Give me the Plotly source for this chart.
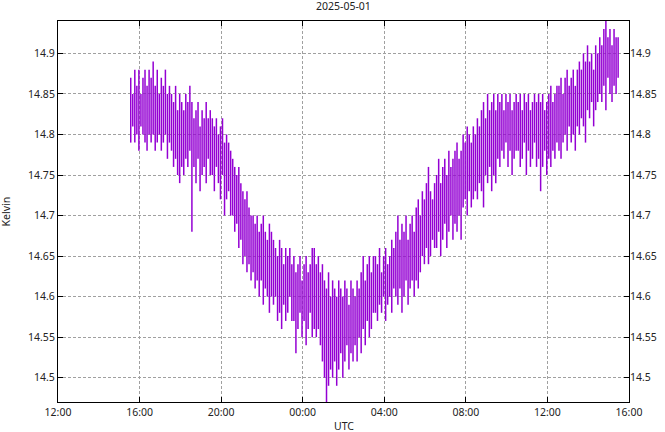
import pandas as pd
import plotly.graph_objects as go

# ---- data ----
title_text = "2025-05-01"
x_label = "UTC"
y_label = "Kelvin"
start_time = "2025-04-30 15:34"
sample_minutes = 6

# per-interval maximum (K)
kmax = [
    14.87, 14.85, 14.88, 14.86, 14.88, 14.85, 14.87, 14.88, 14.86, 14.88,
    14.87, 14.89, 14.86, 14.88, 14.85, 14.87, 14.86, 14.88, 14.85, 14.86,
    14.85, 14.84, 14.86, 14.83, 14.85, 14.84, 14.83, 14.85, 14.84, 14.86,
    14.84, 14.82, 14.83, 14.84, 14.81, 14.83, 14.82, 14.84, 14.82, 14.83,
    14.82, 14.81, 14.82, 14.80, 14.81, 14.82, 14.79, 14.80, 14.79, 14.78,
    14.77, 14.76, 14.75, 14.76, 14.74, 14.73, 14.72, 14.73, 14.71, 14.70,
    14.70, 14.69, 14.70, 14.68, 14.69, 14.70, 14.68, 14.67, 14.69, 14.68,
    14.67, 14.66, 14.65, 14.67, 14.66, 14.64, 14.66, 14.65, 14.66, 14.64,
    14.65, 14.63, 14.64, 14.65, 14.62, 14.64, 14.65, 14.63, 14.64, 14.66,
    14.66, 14.64, 14.65, 14.63, 14.64, 14.62, 14.61, 14.63, 14.60, 14.62,
    14.61, 14.60, 14.62, 14.61, 14.60, 14.62, 14.61, 14.59, 14.62, 14.61,
    14.60, 14.62, 14.61, 14.63, 14.65, 14.62, 14.64, 14.65, 14.63, 14.65,
    14.65, 14.64, 14.66, 14.63, 14.65, 14.66, 14.64, 14.65, 14.67, 14.66,
    14.68, 14.70, 14.67, 14.69, 14.68, 14.70, 14.67, 14.69, 14.70, 14.68,
    14.71, 14.72, 14.70, 14.73, 14.72, 14.74, 14.76, 14.73, 14.72, 14.74,
    14.75, 14.77, 14.74, 14.76, 14.77, 14.75, 14.78, 14.76, 14.77, 14.78,
    14.79, 14.77, 14.78, 14.80, 14.79, 14.81, 14.80, 14.79, 14.81, 14.80,
    14.82, 14.81, 14.83, 14.84, 14.82, 14.85, 14.83, 14.84, 14.85, 14.83,
    14.85, 14.84, 14.85, 14.83, 14.85, 14.84, 14.85, 14.83, 14.84, 14.85,
    14.84, 14.85, 14.83, 14.85, 14.84, 14.85, 14.83, 14.84, 14.85, 14.84,
    14.85, 14.84, 14.85, 14.83, 14.84, 14.85, 14.86, 14.84, 14.85, 14.86,
    14.86, 14.87, 14.85, 14.87, 14.88, 14.86, 14.87, 14.88, 14.86, 14.88,
    14.89, 14.88, 14.90, 14.89, 14.91, 14.89, 14.90, 14.88, 14.91, 14.90,
    14.92, 14.91, 14.93, 14.94, 14.92, 14.93, 14.91, 14.93, 14.92, 14.92,
]

# per-interval minimum (K)
kmin = [
    14.79, 14.81, 14.79, 14.80, 14.78, 14.81, 14.80, 14.79, 14.78, 14.80,
    14.79, 14.80, 14.78, 14.79, 14.80, 14.78, 14.79, 14.80, 14.77, 14.79,
    14.78, 14.76, 14.77, 14.75, 14.74, 14.76, 14.75, 14.77, 14.76, 14.78,
    14.68, 14.76, 14.74, 14.77, 14.73, 14.75, 14.76, 14.74, 14.77, 14.75,
    14.75, 14.73, 14.76, 14.74, 14.72, 14.75, 14.70, 14.72, 14.73, 14.70,
    14.70, 14.68, 14.69, 14.66, 14.67, 14.64, 14.65, 14.63, 14.64, 14.62,
    14.63, 14.61, 14.62, 14.60, 14.62, 14.59, 14.61, 14.60, 14.58, 14.60,
    14.59, 14.60, 14.57, 14.58, 14.56, 14.59, 14.57, 14.58, 14.60, 14.57,
    14.57, 14.53, 14.56, 14.58, 14.55, 14.57, 14.54, 14.56, 14.58, 14.55,
    14.56, 14.55, 14.56, 14.54, 14.52, 14.50, 14.47, 14.49, 14.51, 14.50,
    14.52, 14.49, 14.51, 14.53, 14.50, 14.52, 14.54, 14.51, 14.53, 14.52,
    14.54, 14.52, 14.55, 14.53, 14.56, 14.54, 14.57, 14.55, 14.56, 14.58,
    14.58, 14.57, 14.59, 14.58, 14.60, 14.57, 14.59, 14.60, 14.58, 14.61,
    14.60, 14.59, 14.61, 14.58, 14.60, 14.62, 14.59, 14.61, 14.62, 14.60,
    14.62, 14.61, 14.63, 14.65, 14.64, 14.66, 14.64, 14.65, 14.67, 14.66,
    14.66, 14.68, 14.65, 14.67, 14.69, 14.66, 14.68, 14.70, 14.67, 14.69,
    14.68, 14.70, 14.67, 14.71, 14.72, 14.70, 14.73, 14.71, 14.72, 14.73,
    14.72, 14.74, 14.73, 14.71, 14.75, 14.74, 14.76, 14.73, 14.75, 14.74,
    14.77, 14.76, 14.78, 14.77, 14.79, 14.76, 14.78, 14.75, 14.77, 14.78,
    14.78, 14.76, 14.77, 14.79, 14.75, 14.78, 14.76, 14.77, 14.79, 14.76,
    14.77, 14.73, 14.76, 14.78, 14.75, 14.77, 14.76, 14.78, 14.77, 14.79,
    14.78, 14.77, 14.79, 14.80, 14.78, 14.81, 14.79, 14.80, 14.78, 14.81,
    14.80, 14.82, 14.81, 14.79, 14.83, 14.82, 14.84, 14.81, 14.83, 14.84,
    14.85, 14.84, 14.86, 14.83, 14.87, 14.85, 14.84, 14.86, 14.85, 14.87,
]

x_range = ["2025-04-30 12:00", "2025-05-01 16:00"]
y_range = [14.47, 14.94]
y_ticks = [14.5, 14.55, 14.6, 14.65, 14.7, 14.75, 14.8, 14.85, 14.9]
y_ticktext = ["14.5", "14.55", "14.6", "14.65", "14.7", "14.75", "14.8", "14.85", "14.9"]

times = pd.date_range(start_time, periods=len(kmax), freq=f"{sample_minutes}min")

# vertical min-max segments, separated by gaps
seg_x, seg_y = [], []
for t, lo, hi in zip(times, kmin, kmax):
    seg_x += [t, t, None]
    seg_y += [lo, hi, None]

FONT = "Noto Sans"
FS = 10.5
GRID = "#a0a0a0"
TXT = "#222222"
PURPLE = "#9400d3"

fig = go.Figure()
fig.add_trace(go.Scatter(
    x=seg_x, y=seg_y, mode="lines", connectgaps=False,
    line=dict(color=PURPLE, width=1.5),
    showlegend=False, hoverinfo="skip",
))

axis_common = dict(
    showline=True, linecolor="black", linewidth=1,
    ticks="inside", ticklen=5, tickcolor="black", tickwidth=1,
    showgrid=True, gridcolor=GRID, gridwidth=1, griddash="3px,2px",
    zeroline=False,
    tickfont=dict(family=FONT, size=FS, color=TXT),
)

fig.update_layout(
    width=665, height=432,
    margin=dict(l=58, r=36, t=21, b=30, autoexpand=False),
    paper_bgcolor="white", plot_bgcolor="white",
    xaxis=dict(
        type="date", range=x_range, tickformat="%H:%M", dtick=4 * 3600 * 1000,
        tick0="2025-04-30 12:00", mirror="ticks", automargin=False, **axis_common,
    ),
    yaxis=dict(
        range=y_range, tickvals=y_ticks, ticktext=y_ticktext,
        mirror=True, automargin=False, **axis_common,
    ),
    yaxis2=dict(
        range=y_range, tickvals=y_ticks, ticktext=y_ticktext,
        overlaying="y", side="right", matches="y", showgrid=False,
        showline=False, ticks="inside", ticklen=5, tickcolor="black",
        tickfont=dict(family=FONT, size=FS, color=TXT), automargin=False,
    ),
    annotations=[
        dict(text=title_text, xref="paper", yref="paper", x=0.5, y=1,
             yshift=15, xanchor="center", yanchor="middle", showarrow=False,
             font=dict(family=FONT, size=FS, color=TXT)),
        dict(text=x_label, xref="paper", yref="paper", x=0.5, y=0,
             yshift=-24, xanchor="center", yanchor="middle", showarrow=False,
             font=dict(family=FONT, size=FS, color=TXT)),
        dict(text=y_label, xref="paper", yref="paper", x=0, y=0.5,
             xshift=-53, textangle=-90, xanchor="center", yanchor="middle",
             showarrow=False, font=dict(family=FONT, size=FS, color=TXT)),
    ],
)
# invisible trace to activate right axis
fig.add_trace(go.Scatter(x=[times[0]], y=[kmin[0]], yaxis="y2", mode="markers",
                         marker=dict(opacity=0), showlegend=False, hoverinfo="skip"))

fig.write_html("out.html", config={"displayModeBar": False},
               post_script="document.body.style.margin='0';")
